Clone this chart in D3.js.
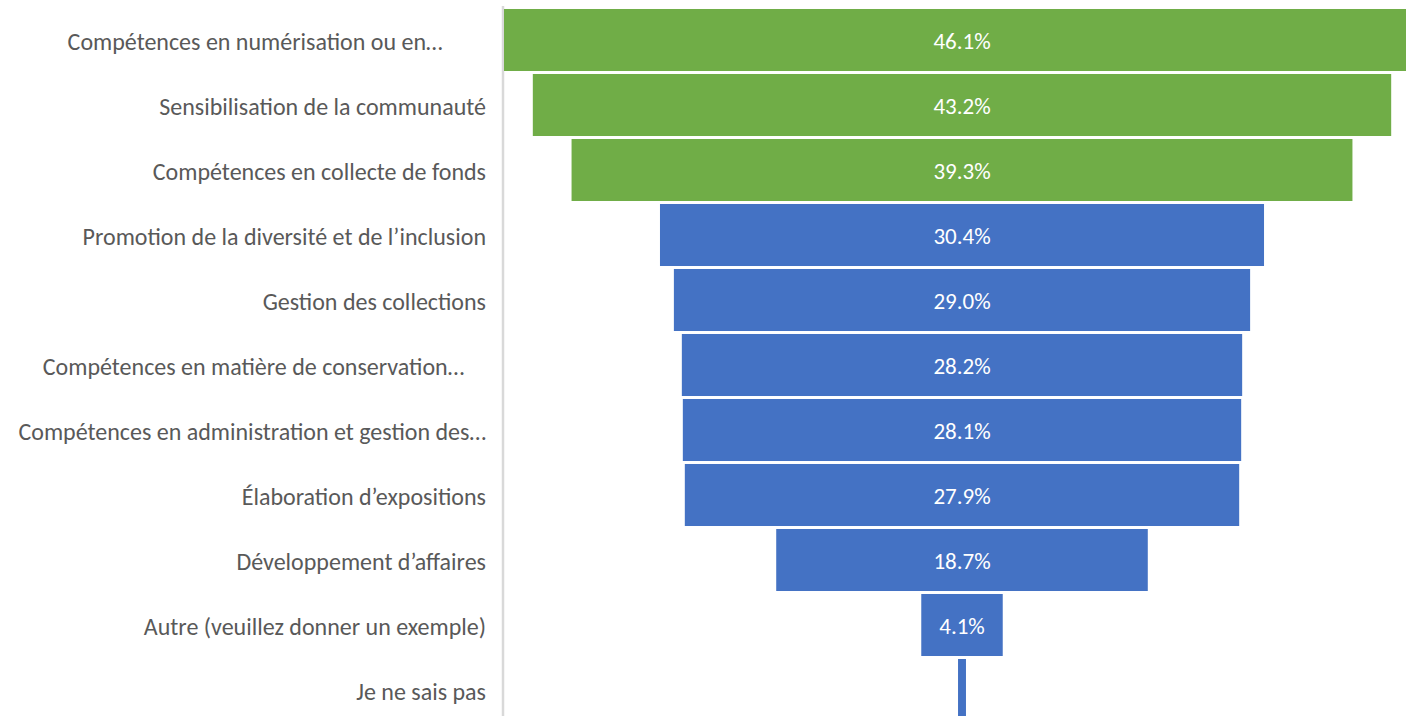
<!DOCTYPE html>
<html><head><meta charset="utf-8">
<script src="https://cdn.jsdelivr.net/npm/d3@7"></script>
<style>html,body{margin:0;padding:0;background:#fff;overflow:hidden}</style>
</head><body>
<svg id="chart" width="1406" height="716"></svg>
<script>
const categories = [
  "Compétences en numérisation ou en…\u00a0\u00a0\u00a0\u00a0\u00a0\u00a0\u00a0\u00a0",
  "Sensibilisation de la communauté",
  "Compétences en collecte de fonds",
  "Promotion de la diversité et de l’inclusion",
  "Gestion des collections",
  "Compétences en matière de conservation…\u00a0\u00a0\u00a0\u00a0",
  "Compétences en administration et gestion des…",
  "Élaboration d’expositions",
  "Développement d’affaires",
  "Autre (veuillez donner un exemple)",
  "Je ne sais pas"
];
const values = [46.1, 43.2, 39.3, 30.4, 29.0, 28.2, 28.1, 27.9, 18.7, 4.1, 0.4];
const valueLabels = ["46.1%","43.2%","39.3%","30.4%","29.0%","28.2%","28.1%","27.9%","18.7%","4.1%",""];
const highlighted = [true, true, true, false, false, false, false, false, false, false, false];

const svg = d3.select("#chart");
const font = "Carlito, Lato, sans-serif";

const y = d3.scaleBand().domain(categories).range([7.5, 722.5]).paddingInner(0.046).paddingOuter(0.023);
const maxV = d3.max(values);
const x = d3.scaleLinear().domain([-maxV, maxV]).range([504, 1420]);

svg.append("line").attr("x1", 503).attr("x2", 503).attr("y1", 6).attr("y2", 716)
  .attr("stroke", "#d9d9d9").attr("stroke-width", 2.5);

const rows = svg.selectAll("g.row").data(categories.map((c, i) => ({c, v: values[i], l: valueLabels[i], h: highlighted[i]})))
  .join("g").attr("class", "row");

rows.append("rect")
  .attr("x", d => x(-d.v)).attr("width", d => x(d.v) - x(-d.v))
  .attr("y", d => y(d.c)).attr("height", y.bandwidth())
  .attr("fill", d => d.h ? "#70AD47" : "#4472C4");

rows.append("text")
  .attr("x", x(0)).attr("y", d => y(d.c) + y.bandwidth() / 2 + 1)
  .attr("text-anchor", "middle").attr("dominant-baseline", "central")
  .attr("fill", "#ffffff").style("font-family", font).style("font-size", "23px")
  .text(d => d.l);

rows.append("text")
  .attr("x", 486).attr("y", d => y(d.c) + y.bandwidth() / 2 + 1)
  .attr("text-anchor", "end").attr("dominant-baseline", "central")
  .attr("fill", "#595959").style("font-family", font).style("font-size", "24px")
  .style("white-space", "pre")
  .text(d => d.c);
</script>
</body></html>
